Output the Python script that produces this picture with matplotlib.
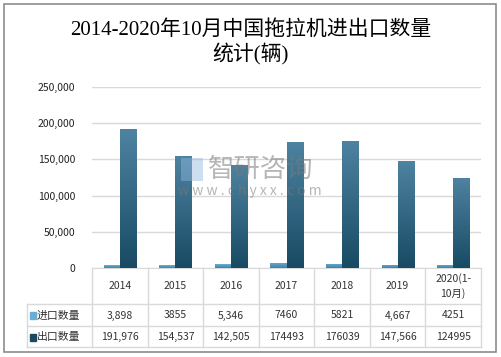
import matplotlib
matplotlib.use("Agg")
import matplotlib.pyplot as plt
import numpy as np
from matplotlib.transforms import blended_transform_factory
from matplotlib.patches import Rectangle
from matplotlib.colors import LinearSegmentedColormap

plt.rcParams['font.family'] = ['Noto Sans CJK SC', 'DejaVu Sans']

categories = ["2014", "2015", "2016", "2017", "2018", "2019", "2020(1-\n10月)"]
imports = [3898, 3855, 5346, 7460, 5821, 4667, 4251]
exports = [191976, 154537, 142505, 174493, 176039, 147566, 124995]
import_labels = ["3,898", "3855", "5,346", "7460", "5821", "4,667", "4251"]
export_labels = ["191,976", "154,537", "142,505", "174493", "176039", "147,566", "124995"]
series_names = ["进口数量", "出口数量"]
yticks = [0, 50000, 100000, 150000, 200000, 250000]
ytick_labels = ["0", "50,000", "100,000", "150,000", "200,000", "250,000"]
title = "2014-2020年10月中国拖拉机进出口数量\n统计(辆)"

W, H = 501, 357
fig = plt.figure(figsize=(W / 100, H / 100), dpi=100)

def fx(px):
    return px / W

def fy(py):
    return 1 - py / H

ax = fig.add_axes([fx(92), fy(268), fx(481) - fx(92), fy(87) - fy(268)])
n = len(categories)
x = np.arange(n)
ax.set_xlim(-0.5, n - 0.5)
ax.set_ylim(0, 250000)

bw = 0.29
imp_cols = ["#6aaed3", "#3d82a8"]
exp_cols = ["#4e83a1", "#184a63"]

def grad_bars(xs, vals, cols):
    cmap = LinearSegmentedColormap.from_list("g", [cols[1], cols[0]])
    bars = ax.bar(xs, vals, bw, color=cols[1], zorder=3, edgecolor='none')
    grad = np.linspace(0, 1, 256).reshape(-1, 1)
    for b in bars:
        x0, y0 = b.get_x(), b.get_y()
        w, h = b.get_width(), b.get_height()
        im = ax.imshow(grad, cmap=cmap, origin='lower', aspect='auto',
                       extent=[x0, x0 + w, y0, y0 + h], zorder=4)
        im.set_clip_path(b)
    return bars

grad_bars(x - bw / 2, imports, imp_cols)
grad_bars(x + bw / 2, exports, exp_cols)
ax.set_xlim(-0.5, n - 0.5)
ax.set_ylim(0, 250000)

ax.set_yticks(yticks)
ax.set_yticklabels(ytick_labels, fontsize=7.5, color='#222222')
ax.tick_params(axis='y', length=0, pad=12)
ax.set_xticks([])
ax.grid(axis='y', color='#d9d9d9', linewidth=1, zorder=0)
for s in ['top', 'right', 'left']:
    ax.spines[s].set_visible(False)
ax.spines['bottom'].set_color('#d9d9d9')

# Table
tr = blended_transform_factory(ax.transData, fig.transFigure)
line_c = '#d9d9d9'
for i in range(n + 1):
    fig.add_artist(plt.Line2D([i - 0.5, i - 0.5], [fy(268), fy(347)], transform=tr,
                              color=line_c, linewidth=1))
for py in [304, 326, 347]:
    fig.add_artist(plt.Line2D([fx(27), fx(481)], [fy(py), fy(py)],
                              transform=fig.transFigure, color=line_c, linewidth=1))
fig.add_artist(plt.Line2D([fx(27), fx(27)], [fy(304), fy(347)],
                          transform=fig.transFigure, color=line_c, linewidth=1))

for i, c in enumerate(categories):
    fig.text(i, fy(286), c, transform=tr, ha='center', va='center', fontsize=7.5,
             color='#333333', linespacing=1.5)
    fig.text(i, fy(315.5), import_labels[i], transform=tr, ha='center', va='center',
             fontsize=7.5, color='#333333')
    fig.text(i, fy(337), export_labels[i], transform=tr, ha='center', va='center',
             fontsize=7.5, color='#333333')

for py, name, col in [(315.5, series_names[0], imp_cols[0]), (337, series_names[1], exp_cols[1])]:
    fig.add_artist(Rectangle((fx(30), fy(py + 3.5)), fx(6), fy(0) - fy(7),
                             transform=fig.transFigure, color=col))
    fig.text(fx(37), fy(py), name, ha='left', va='center', fontsize=7.8, color='#333333')

# Title
fig.text(0.5, fy(43), title, ha='center', va='center', fontsize=15, color='black',
         linespacing=1.2, family=['Liberation Serif', 'Noto Sans CJK SC'])

# Watermark
fig.text(fx(208), fy(169), "智研咨询", ha='left', va='center', fontsize=19,
         color='#7a7a7a', alpha=0.55, zorder=10)
fig.text(fx(250), fy(191), "w w w . c h y x x . c o m", ha='center', va='center',
         fontsize=10, color='#7a7a7a', alpha=0.55, zorder=10)
fig.add_artist(Rectangle((fx(181), fy(181)), fx(22), fy(0) - fy(23),
                         transform=fig.transFigure, facecolor='#8fb8e0', alpha=0.45,
                         edgecolor='none', zorder=10))

# Border
fig.add_artist(Rectangle((fx(4), fy(352)), fx(492), fy(0) - fy(348),
                         transform=fig.transFigure, fill=False, edgecolor='#8c8c8c',
                         linewidth=1.2))

fig.savefig("out.png", dpi=100)
